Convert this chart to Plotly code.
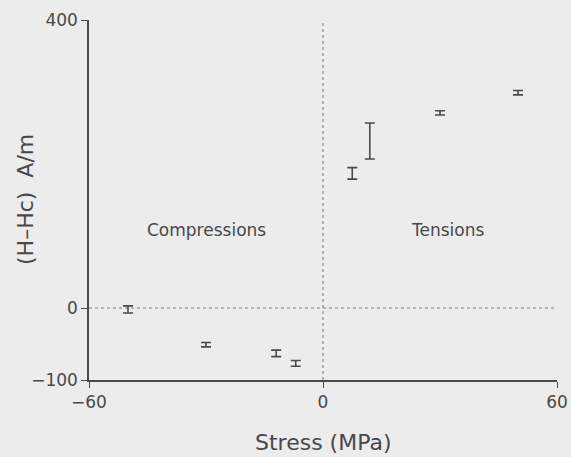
import plotly.graph_objects as go

stress = [-50, -30, -12, -7, 7.5, 12, 30, 50]
h_hc = [-2, -51, -63, -77, 187, 232, 271, 299]
err = [5, 3, 4.5, 4, 8, 25, 3, 3]

x_ticks = [-60, 0, 60]
x_tick_labels = ["\u221260", "0", "60"]
y_ticks = [-100, 0, 400]
y_tick_labels = ["\u2212100", "0", "400"]

regions = ["Compressions", "Tensions"]
region_x = [-30, 32]
region_y = [108, 108]

FONT = "DejaVu Sans"
INK = "#484848"

fig = go.Figure()
fig.add_trace(go.Scatter(
    x=stress, y=h_hc, mode="markers",
    marker=dict(size=2, color="rgba(0,0,0,0)"),
    error_y=dict(type="data", array=err, visible=True, color="#4a4a4a",
                 thickness=1.6, width=5),
    showlegend=False, hoverinfo="x+y",
))

# dotted zero lines
fig.add_shape(type="line", x0=0, x1=0, y0=-100, y1=400, xref="x", yref="y",
              line=dict(color="#7a7a7a", width=1, dash="dot"), layer="below")
fig.add_shape(type="line", x0=-60, x1=60, y0=0, y1=0, xref="x", yref="y",
              line=dict(color="#7a7a7a", width=1, dash="dot"), layer="below")

for t, xx, yy in zip(regions, region_x, region_y):
    fig.add_annotation(x=xx, y=yy, text=t, showarrow=False,
                       font=dict(family=FONT, size=17, color=INK))

# axis titles
fig.add_annotation(x=0.5, y=0, xref="paper", yref="paper", yshift=-48,
                   yanchor="top", text="Stress (MPa)", showarrow=False,
                   font=dict(family=FONT, size=22, color=INK))
fig.add_annotation(x=0, y=0.5, xref="paper", yref="paper", xshift=-64,
                   xanchor="center", text="(H\u2013Hc)  A/m", showarrow=False,
                   textangle=-90, font=dict(family=FONT, size=22, color=INK))

fig.update_layout(
    width=571, height=457,
    margin=dict(l=89, r=14, t=20, b=77),
    paper_bgcolor="#ececec", plot_bgcolor="#ececec",
    font=dict(family=FONT, size=17, color=INK),
    xaxis=dict(range=[-60, 60], tickvals=x_ticks, ticktext=x_tick_labels,
               showgrid=False, zeroline=False, showline=True, automargin=False,
               linecolor="#4a4a4a", linewidth=1.5, ticks="outside",
               ticklen=6, tickcolor="#4a4a4a"),
    yaxis=dict(range=[-100, 400], tickvals=y_ticks, ticktext=y_tick_labels,
               showgrid=False, zeroline=False, showline=True, automargin=False,
               linecolor="#4a4a4a", linewidth=1.5, ticks="outside",
               ticklen=6, tickcolor="#4a4a4a"),
)

fig.write_html("out.html", config={"displayModeBar": False})

# remove default page margin so the 571x457 figure fills the window exactly
with open("out.html", "r", encoding="utf-8") as f:
    html = f.read()
html = html.replace("<head>", "<head><style>html,body{margin:0;padding:0;overflow:hidden;background:#ececec;}</style>", 1)
with open("out.html", "w", encoding="utf-8") as f:
    f.write(html)
